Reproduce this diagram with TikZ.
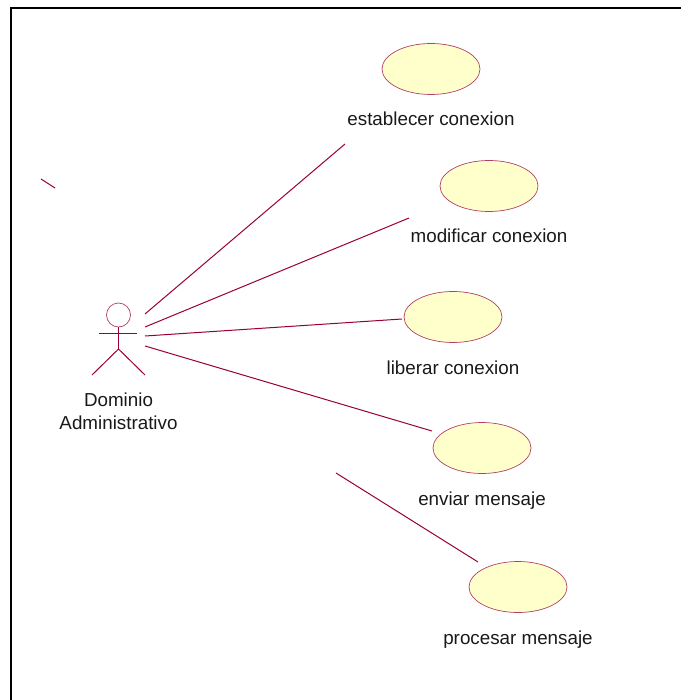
\documentclass[tikz,border=0pt]{standalone}
\usepackage{fontspec}
\setmainfont{Liberation Sans}
\usetikzlibrary{shapes.geometric}
\definecolor{rosered}{HTML}{990033}
\definecolor{roseyellow}{HTML}{FFFFCC}
\tikzset{
usecase/.style={ellipse,draw=rosered!75,fill=roseyellow,line width=0.7pt,minimum width=98pt,minimum height=51pt,inner sep=0pt},
rel/.style={rosered,line width=1pt},
label/.style={font=\fontsize{18.8pt}{23pt}\selectfont,text=black!90,inner sep=0pt,align=center}
}
\begin{document}
\begin{tikzpicture}[x=1pt,y=-1pt]
\useasboundingbox (0,0) rectangle (681,700);
\draw[line width=2.2pt](11,700)--(11,8)--(681,8);
\foreach \n/\x/\y/\t in {a/431/69/establecer conexion,b/489/186/modificar conexion,c/453/317/liberar conexion,d/482/448/enviar mensaje,e/518/587/procesar mensaje}
{
\node[usecase] (\n) at (\x,\y) {};
\node[label,anchor=base] (\n text) at (\x,\y+57) {\t};
}
\node[circle,draw=rosered!75,line width=0.7pt,minimum size=24pt,inner sep=0pt] (head) at (118.5,315) {};
\coordinate (neck) at (head.south);
\coordinate (hip) at (118.5,349);
\coordinate (lhand) at (99,333);
\coordinate (rhand) at (137,333);
\coordinate (lfoot) at (92,375);
\coordinate (rfoot) at (145,375);
\draw[rel] (neck)--(hip);
\draw[rel] (lhand)--(rhand);
\draw[rel] (lfoot)--(hip)--(rfoot);
\node[label] (actor) at (118.5,411) {Dominio\\Administrativo};
\foreach \n/\x/\y/\u/\v in {p/145/314/345/144,q/145/327/409/218,r/145/336/402/319,s/145/346/432/431,t/336/473/478/562,w/41/179/55/188}
{
\coordinate (\n1) at (\x,\y);
\coordinate (\n2) at (\u,\v);
\draw[rel] (\n1)--(\n2);
}
\end{tikzpicture}
\end{document}
